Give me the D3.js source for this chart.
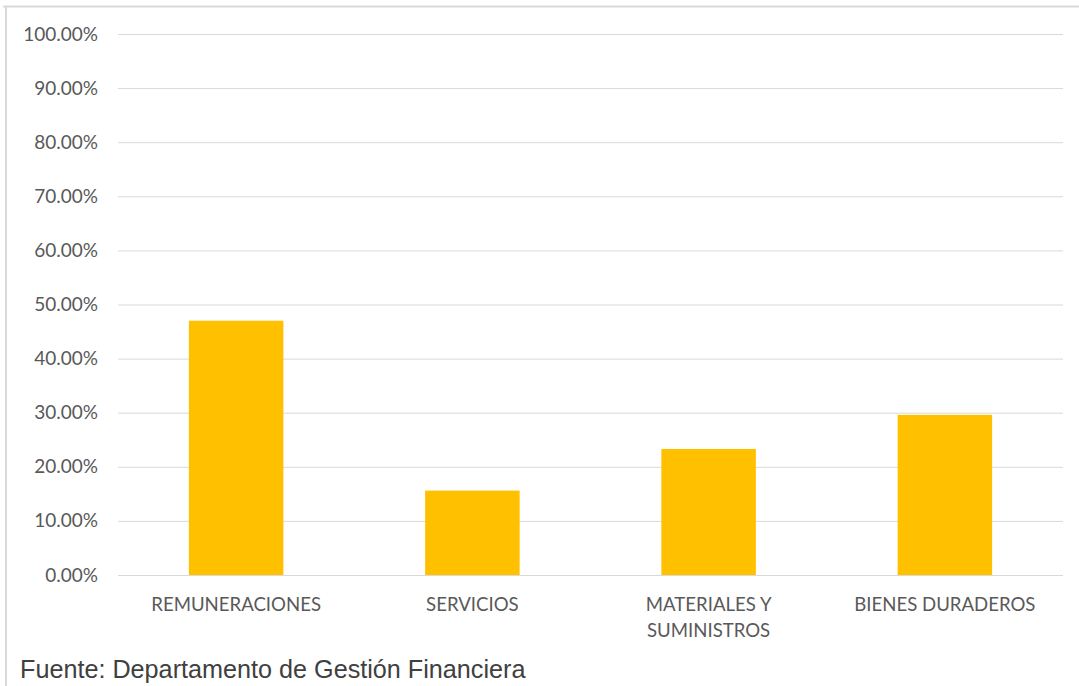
<!DOCTYPE html>
<html><head><meta charset="utf-8">
<script src="https://cdn.jsdelivr.net/npm/d3@7"></script>
<style>body{margin:0;background:#fff;}svg{display:block;}</style>
</head><body>
<svg id="c" width="1079" height="686"></svg>
<script>
const categories = [["REMUNERACIONES"], ["SERVICIOS"], ["MATERIALES Y", "SUMINISTROS"], ["BIENES DURADEROS"]];
const values = [0.47, 0.156, 0.233, 0.296];
const tickValues = [0, 0.1, 0.2, 0.3, 0.4, 0.5, 0.6, 0.7, 0.8, 0.9, 1.0];
const source = "Fuente: Departamento de Gestión Financiera";

const svg = d3.select("#c");
const W = 1079, H = 686;
const m = {left: 118, right: 16, top: 34, bottom: 111};

// chart frame
svg.append("line").attr("x1", 3).attr("x2", W).attr("y1", 6.5).attr("y2", 6.5).attr("stroke", "#d9d9d9").attr("stroke-width", 2);
svg.append("line").attr("x1", 6).attr("x2", 6).attr("y1", 6).attr("y2", H).attr("stroke", "#d9d9d9").attr("stroke-width", 2);

const x = d3.scaleBand().domain(d3.range(categories.length)).range([m.left, W - m.right]).paddingInner(0.6).paddingOuter(0.3);
const y = d3.scaleLinear().domain([0, 1]).range([H - m.bottom, m.top]);

const yAxis = svg.append("g").attr("transform", `translate(${m.left},0)`)
  .call(d3.axisLeft(y).tickValues(tickValues).tickFormat(d3.format(".2%")).tickSize(-(W - m.right - m.left)).tickPadding(20));
yAxis.select(".domain").remove();
yAxis.selectAll(".tick line").attr("stroke", "#d9d9d9").attr("stroke-width", 1);
yAxis.selectAll(".tick text").attr("fill", "#595959").style("font-family", "Lato, 'Open Sans', sans-serif").style("font-size", "19px");

svg.append("g").selectAll("rect").data(values).join("rect")
  .attr("x", (d, i) => x(i)).attr("width", x.bandwidth())
  .attr("y", d => y(d)).attr("height", d => y(0) - y(d))
  .attr("fill", "#ffc000");

const xl = svg.append("g").style("font-family", "Lato, 'Open Sans', sans-serif").style("font-size", "18.6px").attr("fill", "#595959");
categories.forEach((lines, i) => {
  lines.forEach((t, j) => {
    xl.append("text").attr("x", x(i) + x.bandwidth() / 2).attr("y", H - m.bottom + 36 + j * 26)
      .attr("text-anchor", "middle").text(t);
  });
});

svg.append("text").attr("x", 20).attr("y", 678).attr("fill", "#404040")
  .style("font-family", "'Liberation Sans', Arial, sans-serif").style("font-size", "25.2px").text(source);
</script>
</body></html>
